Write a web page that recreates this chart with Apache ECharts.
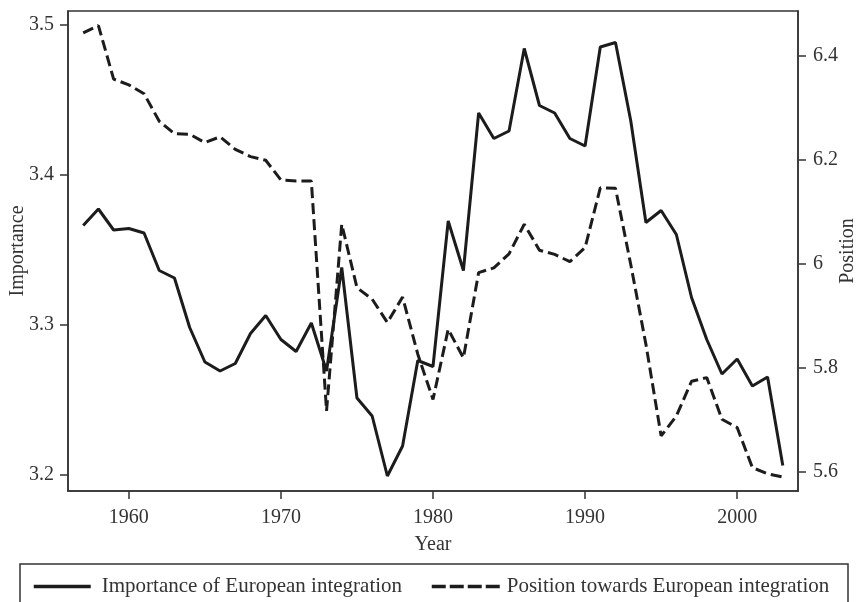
<!DOCTYPE html>
<html>
<head>
<meta charset="utf-8">
<script src="https://cdn.jsdelivr.net/npm/echarts@6/dist/echarts.min.js"></script>
<style>
  html, body { margin: 0; padding: 0; background: #fff; }
  #chart { width: 856px; height: 602px; }
</style>
</head>
<body>
<div id="chart"></div>
<script>
// years 1957..2003
const years = [
  1957, 1958, 1959, 1960, 1961, 1962, 1963, 1964, 1965, 1966,
  1967, 1968, 1969, 1970, 1971, 1972, 1973, 1974, 1975, 1976,
  1977, 1978, 1979, 1980, 1981, 1982, 1983, 1984, 1985, 1986,
  1987, 1988, 1989, 1990, 1991, 1992, 1993, 1994, 1995, 1996,
  1997, 1998, 1999, 2000, 2001, 2002, 2003
];

// left axis
const importance = [
  3.366, 3.377, 3.363, 3.364, 3.361, 3.336, 3.331, 3.298, 3.275, 3.269,
  3.274, 3.294, 3.306, 3.290, 3.282, 3.301, 3.269, 3.338, 3.251, 3.239,
  3.199, 3.219, 3.276, 3.272, 3.369, 3.336, 3.441, 3.424, 3.429, 3.484,
  3.446, 3.441, 3.424, 3.419, 3.485, 3.488, 3.436, 3.368, 3.376, 3.360,
  3.318, 3.290, 3.267, 3.277, 3.259, 3.265, 3.206
];

// right axis
const position = [
  6.444, 6.458, 6.355, 6.344, 6.327, 6.274, 6.250, 6.249, 6.233, 6.244,
  6.220, 6.206, 6.199, 6.161, 6.159, 6.159, 5.717, 6.076, 5.954, 5.932,
  5.887, 5.936, 5.826, 5.739, 5.874, 5.819, 5.983, 5.992, 6.019, 6.076,
  6.026, 6.018, 6.004, 6.031, 6.146, 6.145, 5.999, 5.845, 5.669, 5.707,
  5.774, 5.781, 5.701, 5.685, 5.608, 5.596, 5.590
];

const xTicks = [1960, 1970, 1980, 1990, 2000];
const leftTicks = [3.2, 3.3, 3.4, 3.5];
const rightTicks = [5.6, 5.8, 6, 6.2, 6.4];

const nameA = 'Importance of European integration';
const nameB = 'Position towards European integration';

const font = 'Liberation Serif';
const ink = '#333';
const lineColor = '#1c1c1c';

const chart = echarts.init(document.getElementById('chart'));

const axisCommon = {
  axisLine: { show: true, lineStyle: { color: ink, width: 1.5 } },
  axisTick: { show: true, inside: false, length: 8, lineStyle: { color: ink, width: 1.5 } },
  splitLine: { show: false },
  nameMoveOverlap: false,
  nameTextStyle: { fontFamily: font, fontSize: 20, color: ink },
};

const option = {
  animation: false,
  backgroundColor: '#fff',
  grid: {
    left: 68, right: 58, top: 11, bottom: 111,
    outerBoundsMode: 'none',
    containLabel: false,
    show: true, borderColor: ink, borderWidth: 1.5
  },
  xAxis: {
    ...axisCommon,
    type: 'value',
    min: 1956,
    max: 2004,
    name: 'Year',
    nameLocation: 'middle',
    nameGap: 44,
    axisTick: { ...axisCommon.axisTick, customValues: xTicks },
    axisLabel: {
      customValues: xTicks, margin: 17,
      fontFamily: font, fontSize: 20, color: ink,
      formatter: v => String(v)
    }
  },
  yAxis: [
    {
      ...axisCommon,
      type: 'value',
      position: 'left',
      min: 3.189,
      max: 3.509,
      name: 'Importance',
      nameLocation: 'middle',
      nameRotate: 90,
      nameGap: 40,
      axisTick: { ...axisCommon.axisTick, customValues: leftTicks },
      axisLabel: {
        customValues: leftTicks, margin: 14,
        fontFamily: font, fontSize: 20, color: ink,
        formatter: v => v.toFixed(1)
      }
    },
    {
      ...axisCommon,
      type: 'value',
      position: 'right',
      min: 5.563,
      max: 6.486,
      name: 'Position',
      nameLocation: 'middle',
      nameRotate: 90,
      nameGap: 40,
      axisTick: { ...axisCommon.axisTick, customValues: rightTicks },
      axisLabel: {
        customValues: rightTicks, margin: 15,
        fontFamily: font, fontSize: 20, color: ink,
        formatter: v => (Math.abs(v - 6) < 1e-9 ? '6' : v.toFixed(1))
      }
    }
  ],
  legend: [
    {
      data: [nameA],
      left: 32, top: 576, padding: 0,
      itemWidth: 57, itemHeight: 14,
      itemStyle: { opacity: 0 },
      lineStyle: { width: 3.5 },
      textStyle: { fontFamily: font, fontSize: 21, color: ink, padding: [0, 0, 0, 6] }
    },
    {
      data: [nameB],
      left: 430, top: 576, padding: 0,
      itemWidth: 70, itemHeight: 14,
      itemStyle: { opacity: 0 },
      lineStyle: { width: 3.5, type: [14, 4] },
      textStyle: { fontFamily: font, fontSize: 21, color: ink }
    }
  ],
  graphic: [
    {
      type: 'rect',
      shape: { x: 20, y: 564, width: 828, height: 60 },
      style: { fill: 'none', stroke: ink, lineWidth: 1.5 },
      silent: true
    }
  ],
  series: [
    {
      name: nameA,
      type: 'line',
      yAxisIndex: 0,
      symbol: 'none',
      data: years.map((y, i) => [y, importance[i]]),
      lineStyle: { color: lineColor, width: 3 },
      itemStyle: { color: lineColor }
    },
    {
      name: nameB,
      type: 'line',
      yAxisIndex: 1,
      symbol: 'none',
      data: years.map((y, i) => [y, position[i]]),
      lineStyle: { color: lineColor, width: 3, type: [11, 5] },
      itemStyle: { color: lineColor }
    }
  ]
};

chart.setOption(option);
</script>
</body>
</html>
